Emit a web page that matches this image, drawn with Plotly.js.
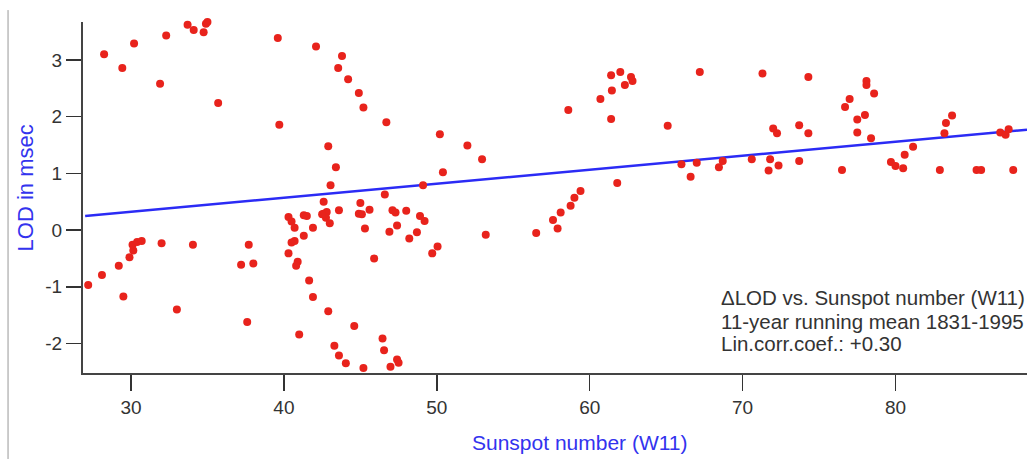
<!DOCTYPE html>
<html>
<head>
<meta charset="utf-8">
<script src="https://cdn.plot.ly/plotly-3.0.1.min.js"></script>
<style>html,body{margin:0;padding:0;background:#fff;}#chart{width:1027px;height:459px;}</style>
</head>
<body>
<div id="chart"></div>
<script>
// Sunspot number (W11) values of the scatter points
const sunspotX = [
 28.24,29.43,30.2,31.9,32.3,33.7,34.1,34.75,34.9,35.0,35.7,
 39.6,42.1,43.8,43.55,44.2,44.9,45.2,39.7,46.7,50.2,52.0,52.96,42.9,43.4,43.05,50.4,49.1,46.6,
 27.2,28.1,29.2,29.9,30.15,30.1,30.4,30.7,29.5,32.0,34.05,33.0,37.7,37.2,38.0,37.6,
 42.6,42.6,42.8,42.75,42.5,43.0,43.6,45.0,44.9,45.1,45.6,45.3,47.1,47.3,48.0,47.4,46.9,48.2,48.7,48.9,49.2,50.05,49.7,53.2,45.9,
 40.3,40.5,40.7,41.3,41.5,41.9,41.3,40.5,40.7,40.3,40.9,40.8,41.65,41.9,42.9,41.0,44.6,43.3,43.6,44.05,45.2,46.45,46.55,47.4,47.5,46.97,
 58.6,60.7,61.4,62.0,61.45,62.3,62.7,62.8,61.4,67.2,65.1,61.8,59.4,59.0,58.75,58.1,57.6,57.9,56.5,66.0,67.0,66.6,68.45,68.7,70.6,
 71.3,74.3,72.0,72.25,73.7,74.3,71.8,71.7,72.35,73.7,76.5,76.7,77.0,77.5,78.0,77.5,78.4,78.1,78.1,78.6,79.7,80.0,80.5,80.6,81.15,82.9,83.2,83.3,83.7,85.3,85.6,86.85,87.2,87.4,87.7
];
// LOD (msec) values of the scatter points
const lodY = [
 3.10,2.86,3.29,2.58,3.43,3.62,3.53,3.49,3.64,3.67,2.24,
 3.39,3.24,3.07,2.86,2.66,2.42,2.16,1.86,1.90,1.69,1.49,1.25,1.48,1.11,0.79,1.02,0.79,0.63,
 -0.97,-0.79,-0.63,-0.48,-0.36,-0.26,-0.21,-0.19,-1.17,-0.23,-0.26,-1.40,-0.26,-0.61,-0.59,-1.62,
 0.50,0.29,0.32,0.22,0.28,0.12,0.35,0.48,0.29,0.28,0.36,0.03,0.35,0.31,0.34,0.08,-0.03,-0.15,-0.04,0.25,0.16,-0.29,-0.41,-0.08,-0.50,
 0.23,0.15,0.04,0.26,0.25,0.04,-0.10,-0.22,-0.19,-0.41,-0.56,-0.63,-0.89,-1.18,-1.43,-1.84,-1.69,-2.04,-2.21,-2.35,-2.43,-1.91,-2.12,-2.28,-2.34,-2.41,
 2.12,2.31,2.73,2.79,2.46,2.56,2.70,2.63,1.96,2.79,1.84,0.83,0.69,0.57,0.43,0.31,0.18,0.03,-0.05,1.16,1.19,0.94,1.11,1.22,1.25,
 2.76,2.70,1.79,1.71,1.85,1.71,1.25,1.05,1.14,1.22,1.06,2.17,2.31,1.95,2.03,1.72,1.62,2.63,2.56,2.41,1.20,1.13,1.09,1.33,1.47,1.06,1.71,1.89,2.02,1.06,1.06,1.72,1.68,1.78,1.06
];
// Linear fit line endpoints
const fitX = [27.0, 88.6];
const fitY = [0.25, 1.77];
// Tick labels
const xTicks = [30, 40, 50, 60, 70, 80];
const yTicks = [-2, -1, 0, 1, 2, 3];
const yTickText = ["-2", "-1", "0", "1", "2", "3"];
const infoLines = ["\u0394LOD vs. Sunspot number (W11)", "11-year running mean 1831-1995", "Lin.corr.coef.: +0.30"];

const sans = "Liberation Sans, Arial, sans-serif";

const traces = [
  {x: fitX, y: fitY, mode: 'lines', type: 'scatter', line: {color: '#2b2bf5', width: 2.5}, hoverinfo: 'skip'},
  {x: sunspotX, y: lodY, mode: 'markers', type: 'scatter', cliponaxis: false,
   marker: {color: '#e8231c', size: 8, line: {width: 0}}}
];

const layout = {
  width: 1027, height: 459,
  margin: {l: 83, r: 0, t: 22, b: 86},
  paper_bgcolor: '#fff', plot_bgcolor: '#fff',
  showlegend: false,
  font: {family: sans, color: '#333'},
  xaxis: {
    range: [26.86, 88.6], tickvals: xTicks, ticks: 'outside', ticklen: 16, tickwidth: 1.5, tickcolor: '#333',
    showgrid: false, zeroline: false, showline: true, linecolor: '#444', linewidth: 2,
    tickfont: {family: sans, size: 19, color: '#333'}
  },
  yaxis: {
    range: [-2.52, 3.67], tickvals: yTicks, ticktext: yTickText, ticks: 'outside', ticklen: 15, tickwidth: 1.5, tickcolor: '#333',
    showgrid: false, zeroline: false, showline: true, linecolor: '#444', linewidth: 2,
    tickfont: {family: sans, size: 19, color: '#333'}
  },
  annotations: [
    {xref: 'paper', yref: 'paper', x: 0.527, y: -0.197, xanchor: 'center', yanchor: 'middle', showarrow: false,
     text: 'Sunspot number (W11)', font: {family: sans, size: 21, color: '#3333ee'}},
    {xref: 'paper', yref: 'paper', x: -0.061, y: 0.527, xanchor: 'center', yanchor: 'middle', showarrow: false, textangle: -90,
     text: 'LOD in msec', font: {family: sans, size: 22, color: '#3333ee'}},
    {xref: 'paper', yref: 'paper', x: 0.6735, y: 0.214, xanchor: 'left', yanchor: 'middle', showarrow: false,
     text: infoLines[0], font: {family: sans, size: 20.5, color: '#333'}},
    {xref: 'paper', yref: 'paper', x: 0.6735, y: 0.148, xanchor: 'left', yanchor: 'middle', showarrow: false,
     text: infoLines[1], font: {family: sans, size: 20.5, color: '#333'}},
    {xref: 'paper', yref: 'paper', x: 0.6735, y: 0.085, xanchor: 'left', yanchor: 'middle', showarrow: false,
     text: infoLines[2], font: {family: sans, size: 20.5, color: '#333'}}
  ],
  shapes: [
    {type: 'line', xref: 'paper', yref: 'paper', x0: -0.0794, x1: -0.0794, y0: 1.034, y1: -0.245,
     line: {color: '#999', width: 1}}
  ]
};

Plotly.newPlot('chart', traces, layout, {displayModeBar: false, staticPlot: true});
</script>
</body>
</html>
